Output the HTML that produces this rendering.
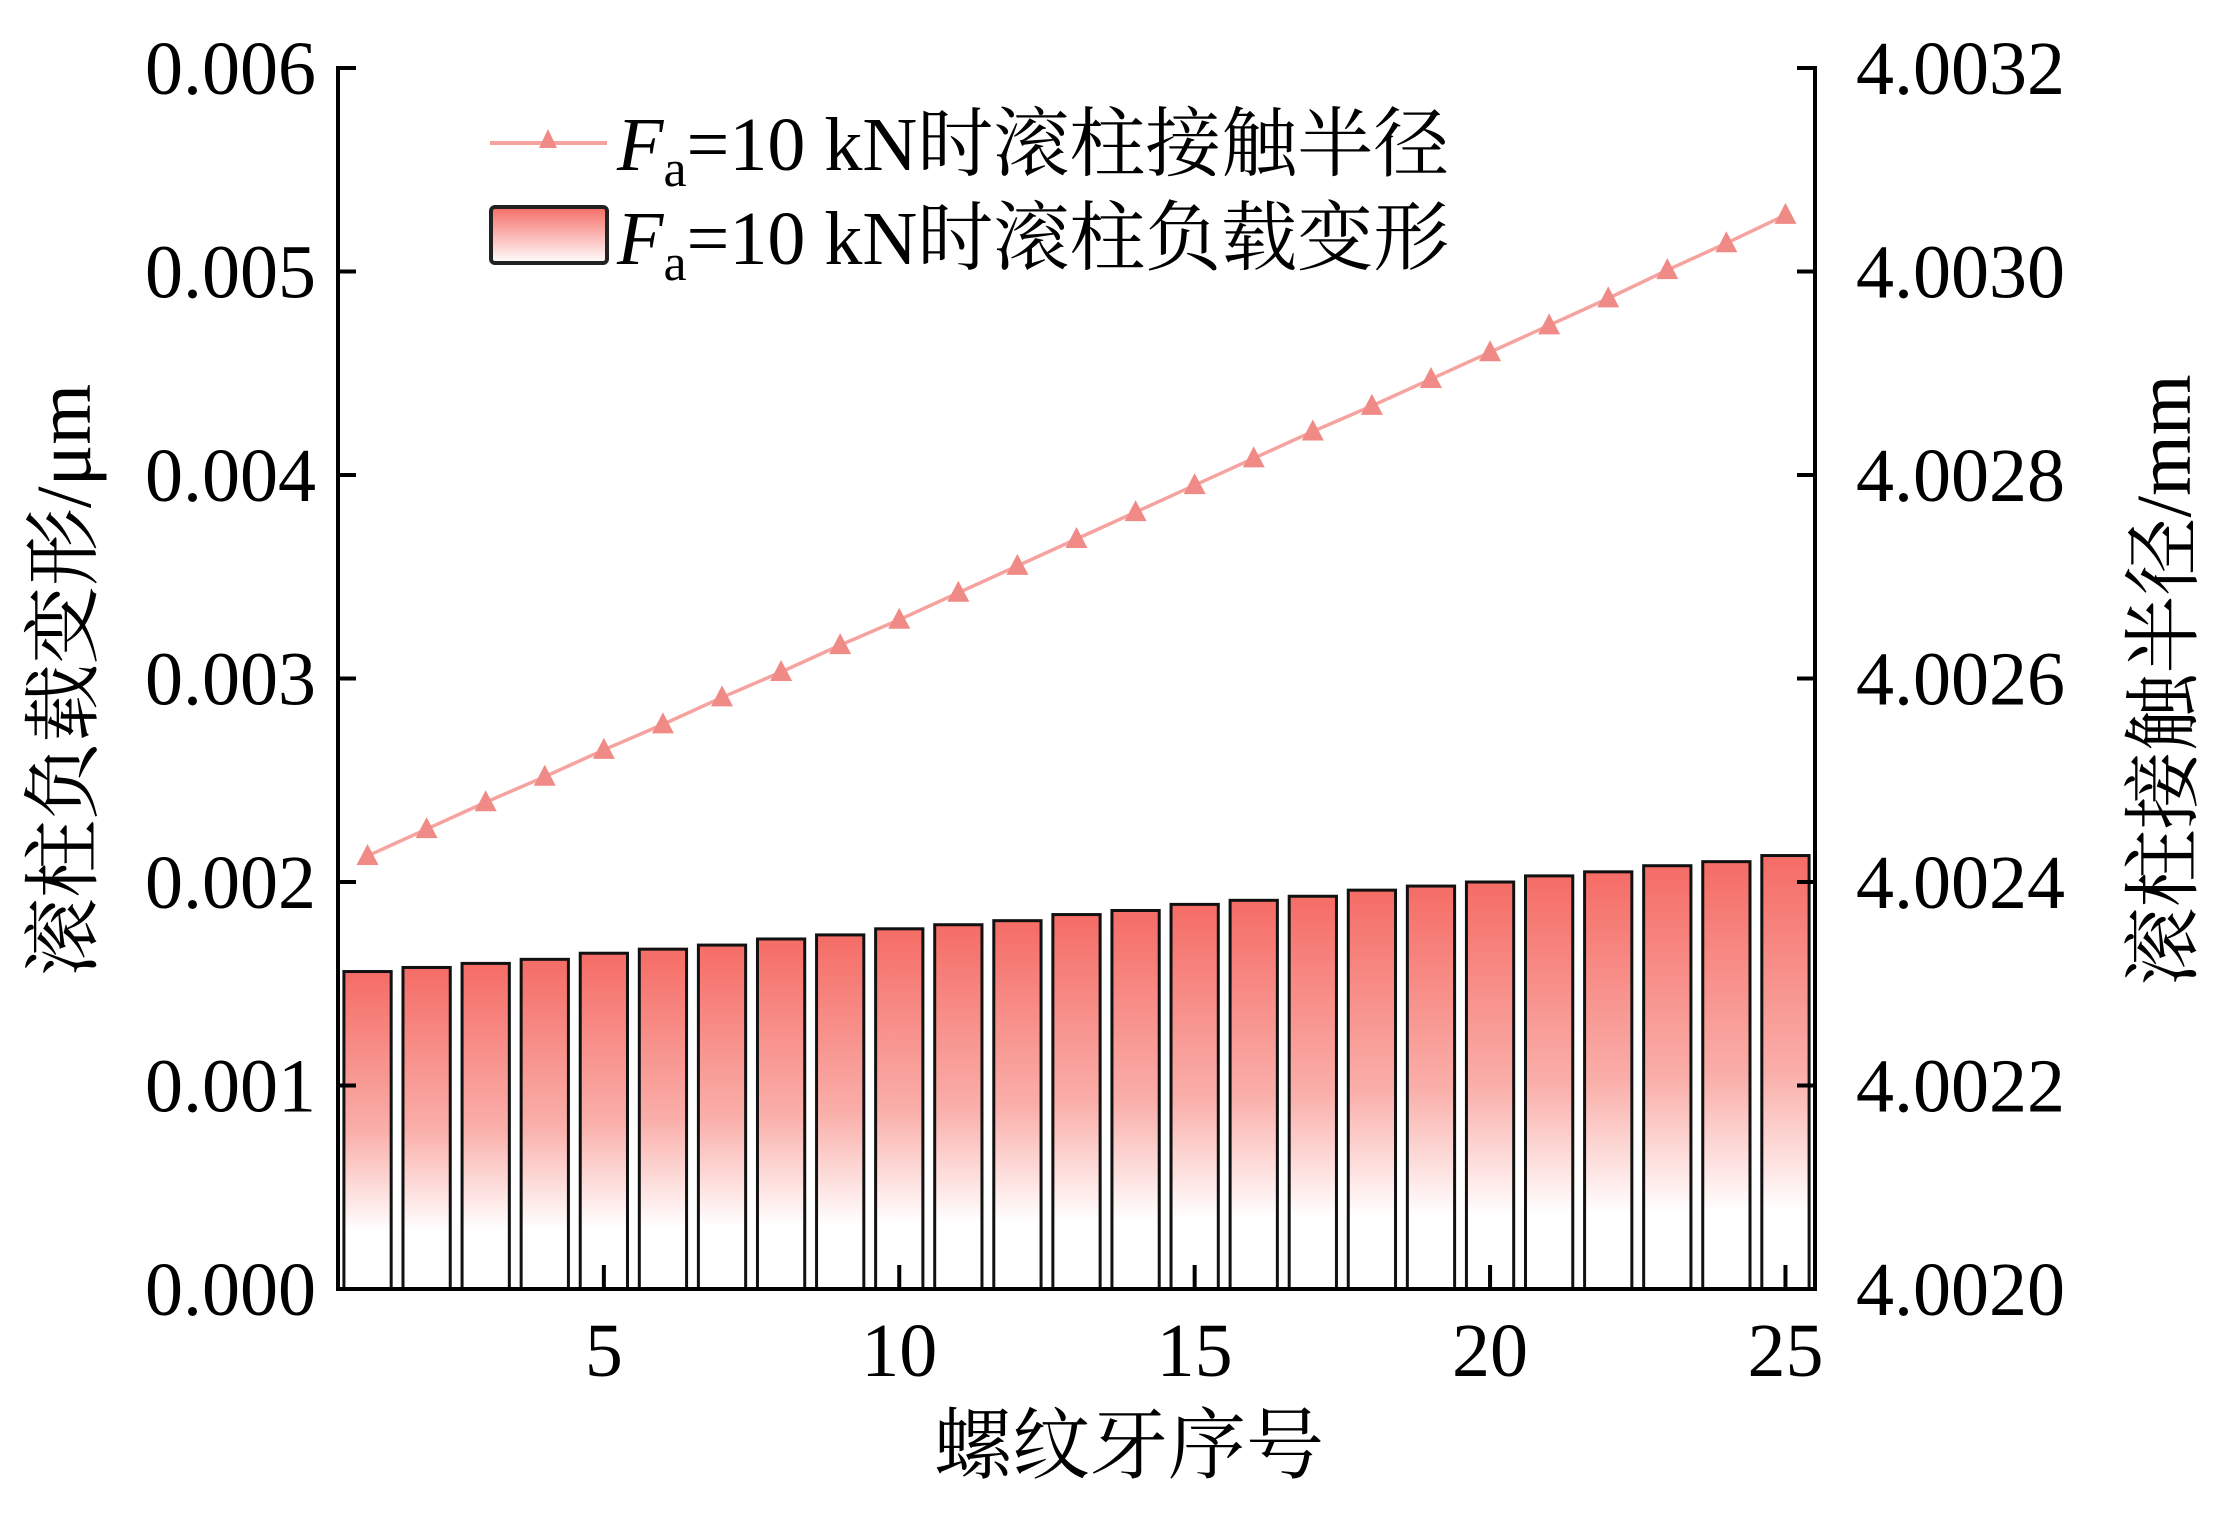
<!DOCTYPE html>
<html><head><meta charset="utf-8"><style>
html,body{margin:0;padding:0;background:#fff;}
svg{display:block;}
text{font-family:"Liberation Serif","Noto Serif CJK SC",serif;fill:#000;}
</style></head><body>
<svg id="chart" width="2218" height="1523" viewBox="0 0 2218 1523" xmlns="http://www.w3.org/2000/svg">
<defs>
<linearGradient id="barGrad" x1="0" y1="0" x2="0" y2="1">
<stop offset="0" stop-color="#f56c66"/>
<stop offset="0.5" stop-color="#faaea9"/>
<stop offset="0.82" stop-color="#ffffff"/>
<stop offset="1" stop-color="#ffffff"/>
</linearGradient>
<linearGradient id="legGrad" x1="0" y1="0" x2="0" y2="1">
<stop offset="0" stop-color="#f56c66"/>
<stop offset="1" stop-color="#ffffff"/>
</linearGradient>
</defs>
<g id="bars"></g>
<g id="line"></g>
<g id="axes"></g>
<g>
<line x1="490" y1="143" x2="607" y2="143" stroke="#f6a3a0" stroke-width="4"/>
<polygon points="548,129 539,148 557,148" fill="#f08a86"/>
<text x="617" y="170" font-size="76"><tspan font-style="italic">F</tspan><tspan font-size="52" dy="16">a</tspan><tspan dy="-16">=10 kN时滚柱接触半径</tspan></text>
<rect x="491" y="207" width="116" height="56" rx="4" fill="url(#legGrad)" stroke="#222" stroke-width="4"/>
<text x="617" y="264" font-size="76"><tspan font-style="italic">F</tspan><tspan font-size="52" dy="16">a</tspan><tspan dy="-16">=10 kN时滚柱负载变形</tspan></text>
</g>
<text font-size="78" text-anchor="middle" transform="translate(90,680) rotate(-90)">滚柱负载变形/μm</text>
<text font-size="78" text-anchor="middle" transform="translate(2190,680) rotate(-90)">滚柱接触半径/mm</text>
<text font-size="78" x="1129" y="1472" text-anchor="middle">螺纹牙序号</text>
</svg>
<script>
const categories=[1,2,3,4,5,6,7,8,9,10,11,12,13,14,15,16,17,18,19,20,21,22,23,24,25];
const deformation=[0.00156,0.00158,0.00160,0.00162,0.00165,0.00167,0.00169,0.00172,0.00174,0.00177,0.00179,0.00181,0.00184,0.00186,0.00189,0.00191,0.00193,0.00196,0.00198,0.00200,0.00203,0.00205,0.00208,0.00210,0.00213];
const radius=[4.0024256,4.0024520,4.0024784,4.0025035,4.0025299,4.0025549,4.0025814,4.0026064,4.0026328,4.0026578,4.0026843,4.0027107,4.0027371,4.0027635,4.0027900,4.0028164,4.0028428,4.0028679,4.0028943,4.0029207,4.0029471,4.0029736,4.0030014,4.0030278,4.0030556];
const xTicks=[5,10,15,20,25];
const leftTicks=["0.000","0.001","0.002","0.003","0.004","0.005","0.006"];
const rightTicks=["4.0020","4.0022","4.0024","4.0026","4.0028","4.0030","4.0032"];

const NS="http://www.w3.org/2000/svg";
const X0=338,X1=1815,Y0=1289,Y1=68;
const x=v=>X0+(v-0.5)/25*(X1-X0);
const yL=v=>Y0-v/0.006*(Y0-Y1);
const yR=v=>Y0-(v-4.002)/0.0012*(Y0-Y1);
function mk(tag,attrs,parent){const e=document.createElementNS(NS,tag);for(const k in attrs)e.setAttribute(k,attrs[k]);document.getElementById(parent).appendChild(e);return e;}

const bw=0.8*(X1-X0)/25;
categories.forEach((c,i)=>{
  const top=yL(deformation[i]);
  const r=mk('rect',{x:x(c)-bw/2,y:top,width:bw,height:Y0-top,fill:'url(#barGrad)',stroke:'#111','stroke-width':3},'bars');
  
  
});
const pts=categories.map((c,i)=>x(c)+','+yR(radius[i])).join(' ');
const pl=mk('polyline',{points:pts,fill:'none',stroke:'#f6a3a0','stroke-width':3.5},'line');


categories.forEach((c,i)=>{
  const px=x(c),py=yR(radius[i]);
  const t=mk('polygon',{points:`${px},${py-12} ${px-11},${py+9} ${px+11},${py+9}`,fill:'#f08a86'},'line');
  
  
});
const ax=[['left-axis',X0,Y1,X0,Y0],['right-axis',X1,Y1,X1,Y0],['x-axis',X0,Y0,X1,Y0]];
ax.forEach(a=>{const l=mk('line',{x1:a[1],y1:a[2],x2:a[3],y2:a[4],stroke:'#000','stroke-width':4,'stroke-linecap':'square'},'axes');
  
  });
leftTicks.forEach((t,i)=>{
  const yy=Y0-i*(Y0-Y1)/(leftTicks.length-1);
  const l=mk('line',{x1:X0,y1:yy,x2:X0+18,y2:yy,stroke:'#000','stroke-width':4},'axes');
  
  
  const tx=mk('text',{x:316,y:yy+26,'font-size':76,'text-anchor':'end'},'axes');tx.textContent=t;
  
  
});
rightTicks.forEach((t,i)=>{
  const yy=Y0-i*(Y0-Y1)/(rightTicks.length-1);
  const l=mk('line',{x1:X1-18,y1:yy,x2:X1,y2:yy,stroke:'#000','stroke-width':4},'axes');
  
  
  const tx=mk('text',{x:1856,y:yy+26,'font-size':76},'axes');tx.textContent=t;
  
  
});
xTicks.forEach(t=>{
  const xx=x(t);
  const l=mk('line',{x1:xx,y1:Y0,x2:xx,y2:Y0-24,stroke:'#000','stroke-width':4},'axes');
  
  
  const tx=mk('text',{x:xx,y:1376,'font-size':76,'text-anchor':'middle'},'axes');tx.textContent=t;
  
  
});
</script>
</body></html>
